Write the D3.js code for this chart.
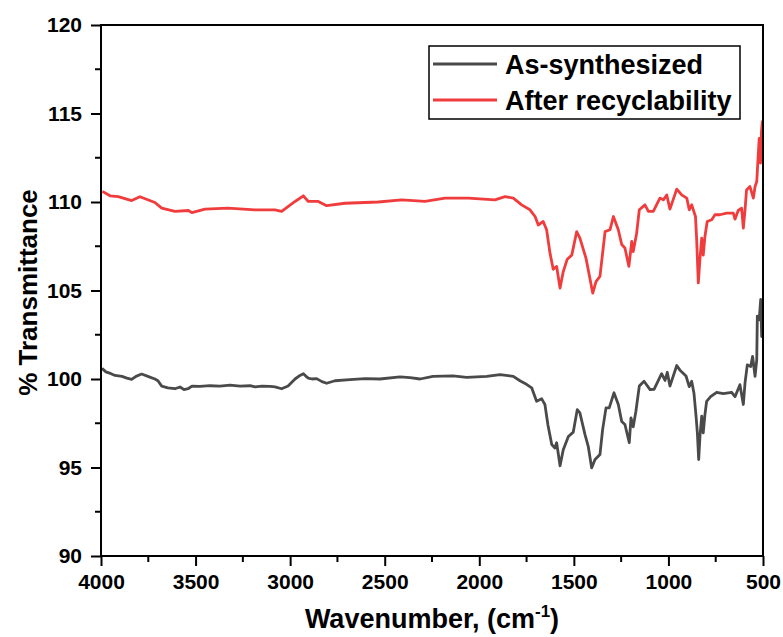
<!DOCTYPE html>
<html lang="en">
<head>
<meta charset="UTF-8">
<title>FTIR</title>
<style>
  body { margin: 0; background: #fff; }
  text { font-family: "Liberation Sans", Arial, sans-serif; font-weight: bold; }
</style>
</head>
<body>
<svg id="chart" width="783" height="637"></svg>
<script src="https://cdn.jsdelivr.net/npm/d3@7"></script>
<script>
// wavenumber (cm-1) and % transmittance
var asWn = [3995,3974,3947,3926,3889,3863,3838,3815,3785,3752,3715,3699,3679,3646,3609,3582,3561,3540,3519,3477,3424,3371,3318,3265,3212,3186,3149,3106,3080,3045,3011,2974,2948,2930,2916,2904,2884,2860,2832,2807,2763,2684,2604,2525,2419,2366,2313,2245,2139,2067,1961,1890,1820,1785,1758,1723,1697,1670,1653,1637,1617,1600,1591,1573,1556,1529,1503,1482,1468,1441,1424,1406,1388,1362,1348,1330,1313,1288,1265,1247,1230,1207,1198,1186,1172,1154,1129,1097,1076,1036,1018,1006,992,956,939,907,890,877,865,854,847,840,833,824,816,807,798,777,745,710,666,648,622,604,595,583,565,555,542,533,530,520,512,507,503];
var asT = [100.6,100.4,100.3,100.2,100.15,100.05,99.98,100.15,100.28,100.15,100.0,99.9,99.6,99.5,99.45,99.55,99.4,99.45,99.6,99.58,99.62,99.6,99.65,99.6,99.62,99.55,99.6,99.58,99.55,99.45,99.6,100.0,100.2,100.3,100.15,100.05,100.0,100.02,99.85,99.76,99.9,99.97,100.02,100.0,100.12,100.08,100.0,100.15,100.18,100.09,100.15,100.25,100.15,99.9,99.75,99.5,98.74,98.88,98.56,97.4,96.3,96.1,96.4,95.1,96.0,96.75,97.0,98.27,98.08,96.86,96.2,94.98,95.45,95.73,97.14,98.37,98.37,99.22,98.56,97.6,97.43,96.4,97.8,97.3,98.18,99.6,99.87,99.4,99.42,100.3,99.92,100.38,99.6,100.76,100.5,100.17,99.57,99.87,99.2,97.9,96.96,95.45,96.8,97.9,96.96,97.99,98.74,99.0,99.25,99.18,99.25,99.0,99.68,98.56,99.78,100.8,100.7,101.28,100.15,101.1,103.55,103.35,104.5,102.4,104.5];

var afterWn = [3993,3952,3909,3838,3794,3715,3679,3609,3538,3520,3450,3329,3186,3080,3045,2974,2930,2904,2851,2807,2710,2534,2410,2287,2181,2058,1917,1864,1820,1776,1732,1705,1688,1662,1644,1626,1609,1591,1573,1556,1535,1511,1485,1468,1436,1424,1400,1383,1362,1335,1309,1291,1265,1247,1230,1209,1194,1186,1168,1154,1124,1106,1080,1045,1027,1009,992,956,930,903,890,877,857,851,842,833,824,816,807,795,771,754,728,692,657,648,631,613,604,595,587,569,551,542,533,526,520,513,508,503];
var afterT = [110.6,110.35,110.3,110.08,110.3,109.97,109.65,109.47,109.52,109.4,109.6,109.65,109.56,109.56,109.47,110.03,110.35,110.03,110.03,109.79,109.93,110.0,110.12,110.03,110.22,110.22,110.12,110.3,110.22,109.84,109.56,109.18,108.7,108.9,108.43,107.1,106.2,106.36,105.14,106.07,106.77,107.0,108.33,107.96,106.83,106.17,104.85,105.5,105.8,108.33,108.43,109.18,108.43,107.6,107.4,106.36,107.77,107.2,108.24,109.56,109.84,109.47,109.47,110.22,110.12,110.4,109.6,110.73,110.4,110.22,109.56,109.84,109.18,107.96,105.43,106.83,107.96,107.0,108.05,108.9,109.0,109.28,109.28,109.37,109.37,109.03,109.52,109.65,108.52,109.56,110.68,110.87,110.22,110.87,111.16,112.5,113.6,112.2,114.0,114.6];

var seriesNames = ["As-synthesized", "After recyclability"];
var seriesColors = ["#4a4a4a", "#f03c3c"];
var xTicks = [4000, 3500, 3000, 2500, 2000, 1500, 1000, 500];
var yTicks = [90, 95, 100, 105, 110, 115, 120];

var margin = {top: 25, right: 20, bottom: 81, left: 101};
var svg = d3.select("#chart");
var W = 783, H = 637;
var w = W - margin.left - margin.right;
var h = H - margin.top - margin.bottom;

var x = d3.scaleLinear().domain([4000, 500]).range([0, w]);
var y = d3.scaleLinear().domain([90, 120]).range([h, 0]);

var g = svg.append("g").attr("transform", "translate(" + margin.left + "," + margin.top + ")");

// curves
var line = d3.line().x(function(d){ return x(d[0]); }).y(function(d){ return y(d[1]); });
var series = [d3.zip(asWn, asT), d3.zip(afterWn, afterT)];
g.selectAll("path.curve").data(series).enter().append("path")
  .attr("class", "curve")
  .attr("d", line)
  .attr("fill", "none")
  .attr("stroke", function(d, i){ return seriesColors[i]; })
  .attr("stroke-width", 2.8)
  .attr("stroke-linejoin", "round");

// frame
g.append("rect").attr("width", w).attr("height", h)
  .attr("fill", "none").attr("stroke", "#000").attr("stroke-width", 2);

// minor ticks
var xMinor = d3.range(3750, 500, -500);
var yMinor = d3.range(92.5, 120, 5);
g.selectAll("line.xm").data(xMinor).enter().append("line")
  .attr("x1", x).attr("x2", x).attr("y1", h).attr("y2", h + 6)
  .attr("stroke", "#000").attr("stroke-width", 2);
g.selectAll("line.ym").data(yMinor).enter().append("line")
  .attr("y1", y).attr("y2", y).attr("x1", 0).attr("x2", -6)
  .attr("stroke", "#000").attr("stroke-width", 2);

// axes
var xAxis = g.append("g").attr("transform", "translate(0," + h + ")")
  .call(d3.axisBottom(x).tickValues(xTicks).tickSize(10).tickPadding(8).tickFormat(d3.format("d")));
var yAxis = g.append("g")
  .call(d3.axisLeft(y).tickValues(yTicks).tickSize(10).tickPadding(9).tickFormat(d3.format("d")));
[xAxis, yAxis].forEach(function(a){
  a.select(".domain").remove();
  a.selectAll(".tick line").attr("stroke", "#000").attr("stroke-width", 2);
  a.selectAll(".tick text").attr("fill", "#000").style("font-size", "21px")
    .style("font-family", "'Liberation Sans', Arial, sans-serif").style("font-weight", "bold");
});

// axis titles
var xt = svg.append("text").attr("x", margin.left + w / 2).attr("y", 628)
  .attr("text-anchor", "middle").style("font-size", "27px");
xt.append("tspan").text("Wavenumber, (cm");
xt.append("tspan").attr("dy", -11).style("font-size", "17px").text("-1");
xt.append("tspan").attr("dy", 11).text(")");

svg.append("text")
  .attr("transform", "translate(37," + (margin.top + h / 2 + 2) + ") rotate(-90)")
  .attr("text-anchor", "middle").style("font-size", "26px")
  .text("% Transmittance");

// legend
var lg = svg.append("g");
lg.append("rect").attr("x", 429).attr("y", 46).attr("width", 311).attr("height", 73)
  .attr("fill", "#fff").attr("stroke", "#000").attr("stroke-width", 1.5);
var items = lg.selectAll("g.item").data(seriesNames).enter().append("g")
  .attr("transform", function(d, i){ return "translate(0," + (64 + i * 36) + ")"; });
items.append("line").attr("x1", 433).attr("x2", 497).attr("y1", 0).attr("y2", 0)
  .attr("stroke", function(d, i){ return seriesColors[i]; }).attr("stroke-width", 2.8);
items.append("text").attr("x", 505).attr("y", 10).style("font-size", "27px").text(function(d){ return d; });
</script>
</body>
</html>
